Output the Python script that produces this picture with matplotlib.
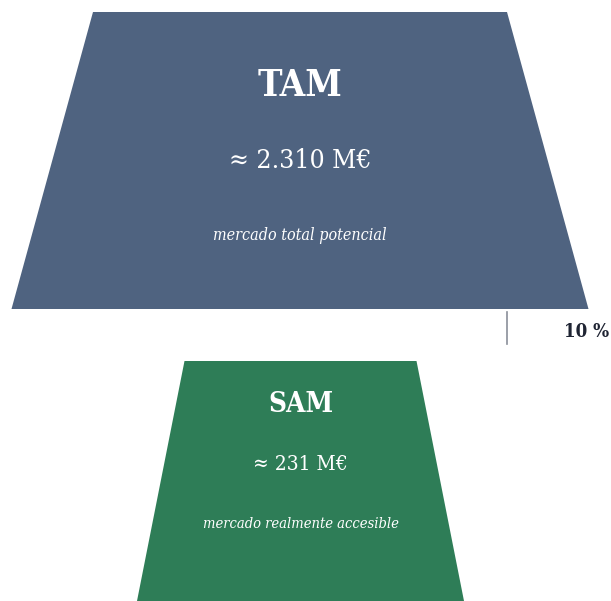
import matplotlib.pyplot as plt
from matplotlib.patches import Polygon

# data
levels = ["TAM", "SAM"]
values = ["≈ 2.310 M€", "≈ 231 M€"]
subtitles = ["mercado total potencial", "mercado realmente accesible"]
share_label = "10 %"

# layout (pixel space of the 611x601 canvas)
colors = ["#4f6380", "#2e7d57"]
top_half = [207, 116]       # half width at top edge
bottom_half = [288.5, 163.5]  # half width at bottom edge
y_top = [12, 361]
y_bot = [309, 601]
cx = [300, 300.5]
title_y = [86.5, 405]
value_y = [161, 465]
sub_y = [235.5, 524]
title_fs = [26.5, 20]
value_fs = [19, 15]
sub_fs = [11.5, 10.5]

font = dict(family="DejaVu Serif", stretch="condensed")

fig = plt.figure(figsize=(6.11, 6.01), dpi=100)
ax = fig.add_axes([0, 0, 1, 1])
ax.set_xlim(0, 611)
ax.set_ylim(601, 0)
ax.axis("off")

for i, name in enumerate(levels):
    shape = [
        (cx[i] - top_half[i], y_top[i]),
        (cx[i] + top_half[i], y_top[i]),
        (cx[i] + bottom_half[i], y_bot[i]),
        (cx[i] - bottom_half[i], y_bot[i]),
    ]
    ax.add_patch(Polygon(shape, closed=True, facecolor=colors[i], edgecolor="none"))
    ax.text(cx[i], title_y[i], name, ha="center", va="center", color="white",
            fontsize=title_fs[i], fontweight="bold", **font)
    ax.text(cx[i], value_y[i], values[i], ha="center", va="center", color="white",
            fontsize=value_fs[i], **font)
    ax.text(cx[i], sub_y[i], subtitles[i], ha="center", va="center", color="white",
            fontsize=sub_fs[i], style="italic", **font)

# conversion marker between the two levels
ax.plot([507, 507], [312, 344], color="#8a8f99", lw=1.2)
ax.text(587, 332, share_label, ha="center", va="center", color="#1f2433",
        fontsize=13.5, fontweight="bold", **font)

fig.savefig("out.png", dpi=100, facecolor="white")
